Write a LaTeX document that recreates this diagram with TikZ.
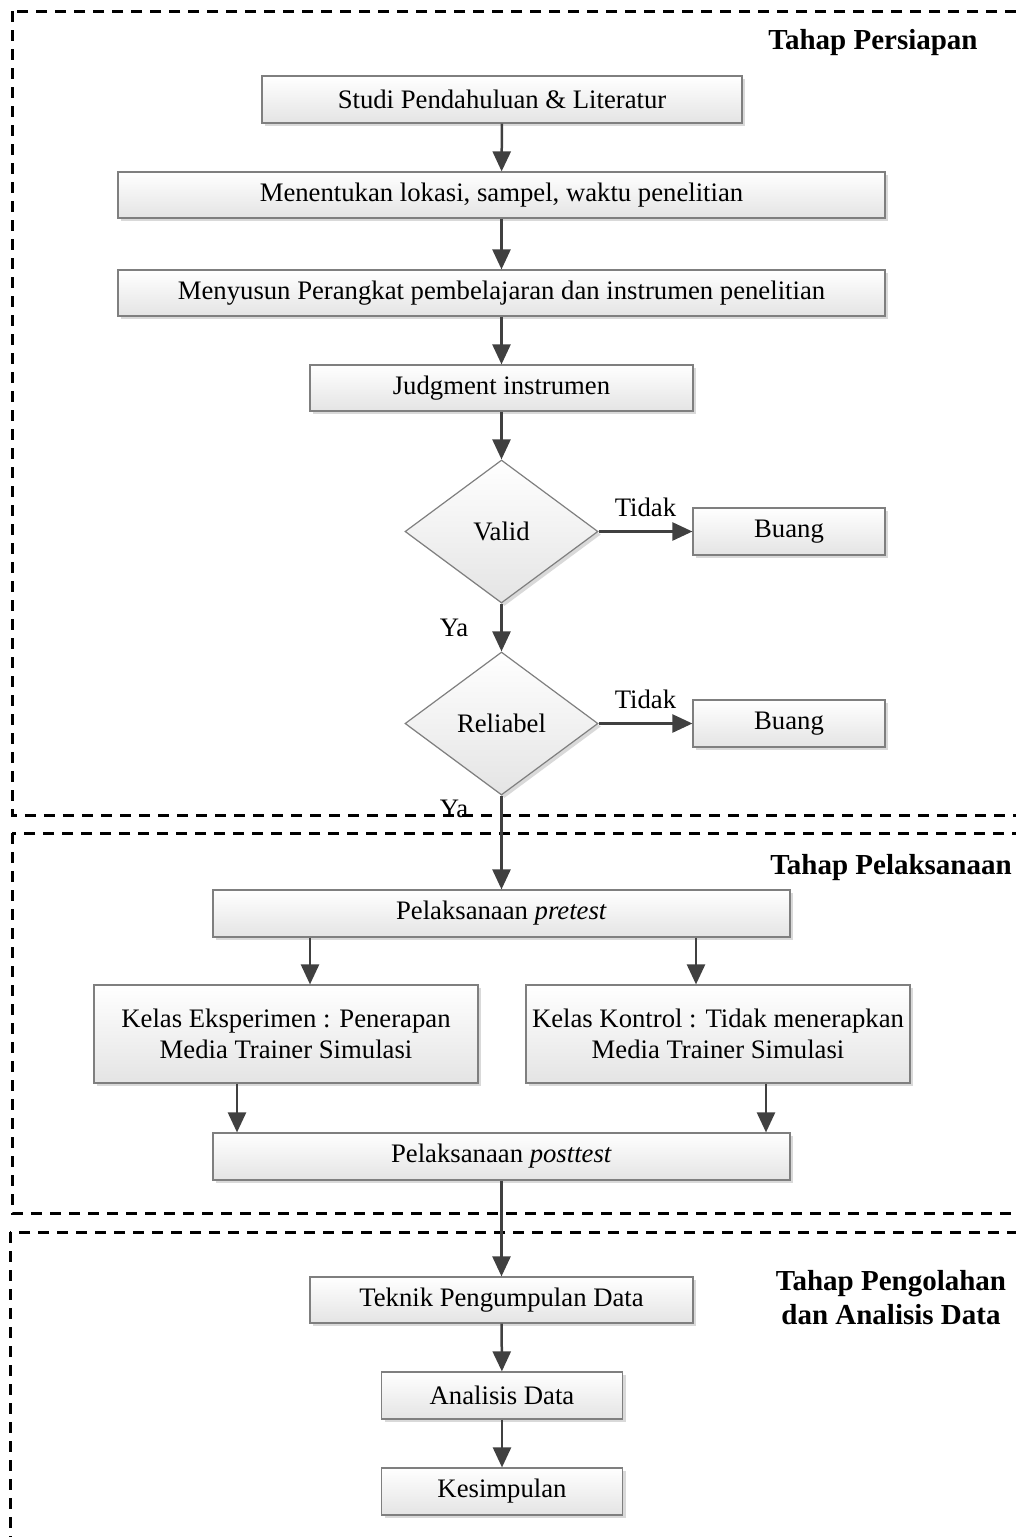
\documentclass[tikz,border=0pt]{standalone}
\usepackage{fontspec}
\setmainfont{Liberation Serif}
\usetikzlibrary{arrows.meta,shapes.geometric,shadows}
\definecolor{boxborder}{HTML}{7F7F7F}
\definecolor{boxfill}{HTML}{E4E4E4}
\definecolor{shadowc}{HTML}{D9D9D9}
\definecolor{arrowc}{HTML}{404040}
\newcommand\fBody{\fontsize{13.35}{15.5}\selectfont}
\newcommand\fHead{\fontsize{14.5}{17}\selectfont\bfseries}
\begin{document}
\begin{tikzpicture}[x=0.5pt,y=-0.5pt,
  box/.style={draw=boxborder, line width=0.6pt, top color=white, bottom color=boxfill,
    drop shadow={shadow xshift=1.5pt, shadow yshift=-1.5pt, fill=shadowc, opacity=1},
    inner sep=0pt, font=\fBody, align=center},
  dec/.style={box, diamond, minimum width=96.5pt, minimum height=71.5pt},
  arr/.style={draw=arrowc, line width=1.25pt, -{Triangle[length=10pt,width=9pt]}},
  lbl/.style={font=\fBody, inner sep=0pt},
  head/.style={font=\fHead, inner sep=0pt, align=center},
  region/.style={draw=black, line width=1.5pt, dash pattern=on 5.5pt off 4pt}]
\useasboundingbox (0,0) rectangle (1016,1537);

% regions
\draw[region] (12,11) rectangle (1040,815);
\draw[region] (12,833) rectangle (1040,1213);
\draw[region] (10,1232) rectangle (1040,1580);

\node[head] (h1) at (873,43) {Tahap Persiapan};
\node[head] (h2) at (891,868) {Tahap Pelaksanaan};
\node[head] (h3) at (891,1298) {Tahap Pengolahan\\dan Analisis Data};

% boxes
\node[box, minimum width=240pt, minimum height=23.5pt] (b1) at (502,99.5) {Studi Pendahuluan \& Literatur};
\node[box, minimum width=383.5pt, minimum height=23pt] (b2) at (501.5,195) {Menentukan lokasi, sampel, waktu penelitian};
\node[box, minimum width=383.5pt, minimum height=23pt] (b3) at (501.5,293) {Menyusun Perangkat pembelajaran dan instrumen penelitian};
\node[box, minimum width=191.5pt, minimum height=23pt] (b4) at (501.5,388) {Judgment instrumen};
\node[dec] (d1) at (501.5,531.5) {Valid};
\node[box, minimum width=96pt, minimum height=23.5pt] (bu1) at (789,531.5) {Buang};
\node[dec] (d2) at (501.5,723.5) {Reliabel};
\node[box, minimum width=96pt, minimum height=23.5pt] (bu2) at (789,723.5) {Buang};
\node[box, minimum width=288.5pt, minimum height=23.5pt] (pre) at (501.5,913.5) {Pelaksanaan \textit{pretest}};
\node[box, minimum width=192pt, minimum height=49pt] (kE) at (286,1034) {Kelas Eksperimen : Penerapan\\Media Trainer Simulasi};
\node[box, minimum width=192pt, minimum height=49pt] (kK) at (718,1034) {Kelas Kontrol : Tidak menerapkan\\Media Trainer Simulasi};
\node[box, minimum width=288.5pt, minimum height=23.5pt] (post) at (501.5,1156.5) {Pelaksanaan \textit{posttest}};
\node[box, minimum width=191.5pt, minimum height=23pt] (tek) at (501.5,1300) {Teknik Pengumpulan Data};
\node[box, minimum width=120.5pt, minimum height=23.5pt] (ana) at (502,1395.5) {Analisis Data};
\node[box, minimum width=120.5pt, minimum height=23.5pt] (kes) at (502,1491.5) {Kesimpulan};

\coordinate (xa) at (310,0);
\coordinate (xb) at (696,0);
\coordinate (xc) at (237,0);
\coordinate (xd) at (766,0);

% connectors
\draw[arr] (b1) -- (b2);
\draw[arr] (b2) -- (b3);
\draw[arr] (b3) -- (b4);
\draw[arr] (b4) -- (d1.north);
\draw[arr] (d1.east) -- node[lbl, above=6.5pt] {Tidak} (bu1.west);
\draw[arr] (d1.south) -- node[lbl, left=16pt] {Ya} (d2.north);
\draw[arr] (d2.east) -- node[lbl, above=6.5pt] {Tidak} (bu2.west);
\draw[arr] (d2.south) -- node[lbl, left=16pt, pos=0.14] {Ya} (pre.north);
\draw[arr] (pre.south -| xa) -- (kE.north -| xa);
\draw[arr] (pre.south -| xb) -- (kK.north -| xb);
\draw[arr] (kE.south -| xc) -- (post.north -| xc);
\draw[arr] (kK.south -| xd) -- (post.north -| xd);
\draw[arr] (post) -- (tek);
\draw[arr] (tek) -- (ana);
\draw[arr] (ana) -- (kes);
\end{tikzpicture}
\end{document}
